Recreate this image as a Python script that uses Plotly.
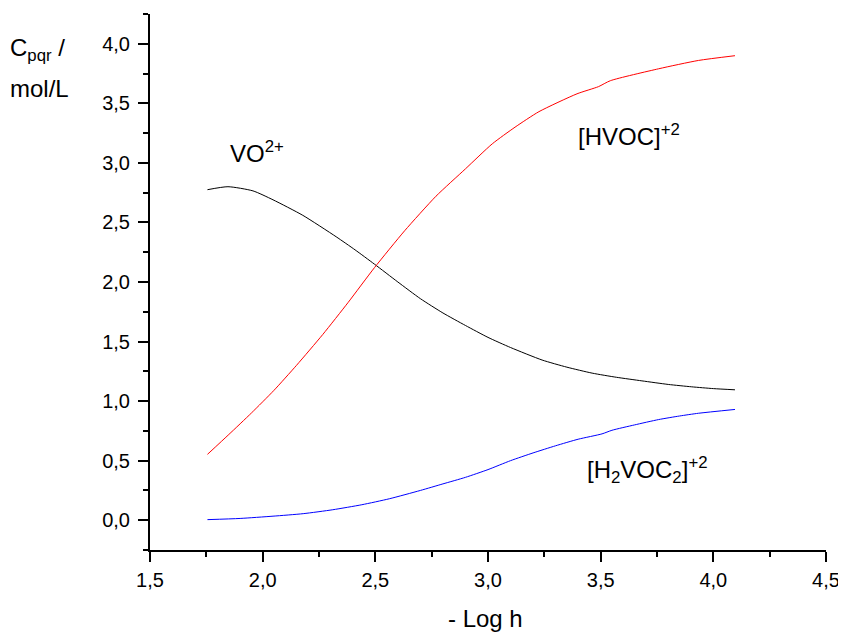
import plotly.graph_objects as go

# VO2+ (black)
x_vo = [1.755, 1.846, 1.957, 2.046, 2.178, 2.326, 2.41, 2.496, 2.6, 2.7, 2.8, 2.9, 3.0, 3.1, 3.24, 3.35, 3.462, 3.57, 3.683, 3.8, 3.904, 4.0, 4.096]
y_vo = [2.775, 2.80, 2.765, 2.69, 2.56, 2.38, 2.27, 2.15, 2.00, 1.86, 1.74, 1.635, 1.535, 1.45, 1.345, 1.285, 1.235, 1.20, 1.17, 1.14, 1.12, 1.105, 1.095]

# [HVOC]+2 (red)
x_hvoc = [1.755, 1.85, 1.95, 2.05, 2.15, 2.267, 2.38, 2.496, 2.63, 2.769, 2.9, 3.019, 3.12, 3.226, 3.395, 3.49, 3.543, 3.757, 3.934, 4.096]
y_hvoc = [0.553, 0.72, 0.90, 1.09, 1.30, 1.56, 1.83, 2.12, 2.43, 2.72, 2.95, 3.16, 3.30, 3.43, 3.58, 3.64, 3.69, 3.79, 3.86, 3.90]

# [H2VOC2]+2 (blue)
x_h2 = [1.755, 1.9, 2.046, 2.18, 2.311, 2.44, 2.562, 2.7, 2.8, 2.9, 3.0, 3.1, 3.2, 3.3, 3.4, 3.506, 3.55, 3.65, 3.757, 3.85, 3.934, 4.096]
y_h2 = [0.005, 0.015, 0.034, 0.055, 0.088, 0.13, 0.18, 0.25, 0.305, 0.36, 0.425, 0.50, 0.565, 0.625, 0.68, 0.725, 0.755, 0.80, 0.845, 0.875, 0.898, 0.93]

x_range = [1.5, 4.5]
y_range = [-0.25, 4.25]

fig = go.Figure()
for xs, ys, col in [(x_vo, y_vo, "black"), (x_hvoc, y_hvoc, "#ff0000"), (x_h2, y_h2, "#0000ff")]:
    fig.add_trace(go.Scatter(x=xs, y=ys, mode="lines",
                             line=dict(color=col, width=1, shape="spline", smoothing=0.6),
                             showlegend=False))

axis_common = dict(
    showline=True, linecolor="black", linewidth=2, mirror=False,
    ticks="outside", ticklen=10, tickwidth=2, tickcolor="black",
    showgrid=False, zeroline=False, tickformat=".1f",
    tickfont=dict(family="Arial, Liberation Sans, sans-serif", size=20, color="black"),
    minor=dict(ticks="outside", ticklen=5, tickwidth=2, tickcolor="black", dtick=0.25, showgrid=False),
    dtick=0.5, tick0=0,
)

fig.update_xaxes(range=x_range, ticklabelstandoff=1, **axis_common)
fig.update_yaxes(range=y_range, ticklabelstandoff=4, **axis_common)

font_lbl = dict(family="Arial, Liberation Sans, sans-serif", size=24, color="black")
W, H = 678.0, 536.0
def px(xp):
    return (xp - 150) / W
def py(yp):
    return (550 - yp) / H

annotations = [
    dict(text="VO<sup>2+</sup>", x=px(228), y=py(152), xanchor="left", yanchor="middle"),
    dict(text="[HVOC]<sup>+2</sup>", x=px(577), y=py(135), xanchor="left", yanchor="middle"),
    dict(text="[H<sub>2</sub>VOC<sub>2</sub>]<sup>+2</sup>", x=px(586), y=py(470), xanchor="left", yanchor="middle"),
    dict(text="- Log h", x=px(486), y=py(618), xanchor="center", yanchor="middle"),
    dict(text="C<sub>pqr</sub> /", x=px(8), y=py(50), xanchor="left", yanchor="middle"),
    dict(text="mol/L", x=px(8), y=py(88), xanchor="left", yanchor="middle"),
]
for a in annotations:
    a.update(xref="paper", yref="paper", showarrow=False, font=font_lbl)

# page body has an 8px default margin; offset the figure so the plot area lands at 150..828 x 14..550
fig.update_layout(
    width=838, height=624,
    margin=dict(l=142, r=18, t=6, b=82),
    paper_bgcolor="white", plot_bgcolor="white",
    separators=", ",
    annotations=annotations,
)

fig.write_html("out.html")
